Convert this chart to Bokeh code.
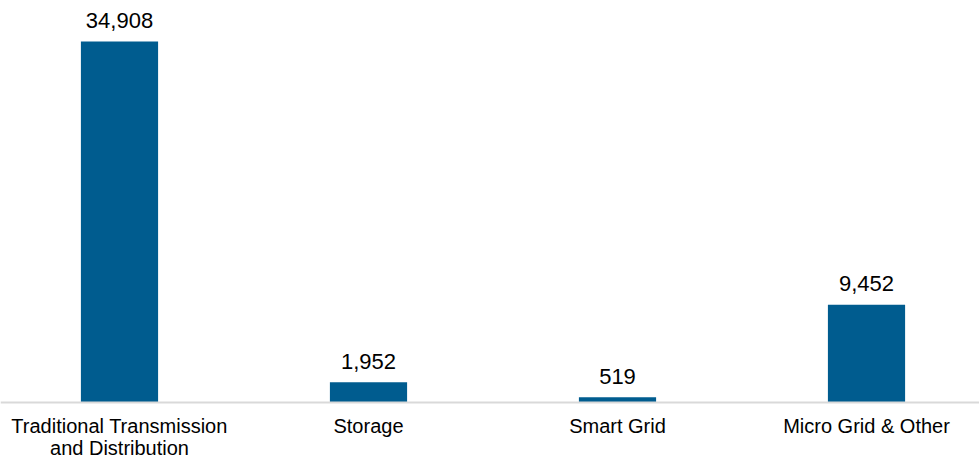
from bokeh.plotting import figure
from bokeh.models import ColumnDataSource, Range1d, Span
from bokeh.core.properties import value
from bokeh.embed import file_html
from bokeh.resources import INLINE

# Data
categories = ["Traditional Transmission\nand Distribution", "Storage", "Smart Grid", "Micro Grid & Other"]
values = [34908, 1952, 519, 9452]
value_labels = ["34,908", "1,952", "519", "9,452"]

xs = list(range(len(categories)))
src = ColumnDataSource(dict(x=xs, top=values, lab=value_labels))

p = figure(width=979, height=460, x_range=Range1d(-0.4779, 3.4538),
           y_range=Range1d(-5608, 38872), min_border=0,
           toolbar_location=None, output_backend="svg")
p.axis.visible = False
p.grid.visible = False
p.outline_line_color = None
p.background_fill_color = "white"
p.border_fill_color = "white"

p.vbar(x="x", top="top", bottom=0, width=0.31, source=src,
       fill_color="#005C8F", line_color=None)

p.add_layout(Span(location=0, dimension="width", line_color="#D9D9D9", line_width=2))

p.text(x="x", y="top", text="lab", source=src, text_align="center",
       text_baseline="alphabetic", y_offset=-21, text_font=value("Liberation Sans"),
       text_font_size="22px", text_color="#000000")

# Category labels (possibly multi-line)
lx, ly_off, ltxt = [], [], []
for i, c in enumerate(categories):
    for j, line in enumerate(c.split("\n")):
        lx.append(i)
        ly_off.append(23 + 22 * j)
        ltxt.append(line)
for off in sorted(set(ly_off)):
    s = ColumnDataSource(dict(x=[x for x, o in zip(lx, ly_off) if o == off],
                              y=[0] * sum(1 for o in ly_off if o == off),
                              t=[t for t, o in zip(ltxt, ly_off) if o == off]))
    p.text(x="x", y="y", text="t", source=s, text_align="center",
           text_baseline="alphabetic", y_offset=off, text_font=value("Liberation Sans"),
           text_font_size="20px", text_color="#000000")

open("out.html", "w").write(file_html(p, INLINE))
